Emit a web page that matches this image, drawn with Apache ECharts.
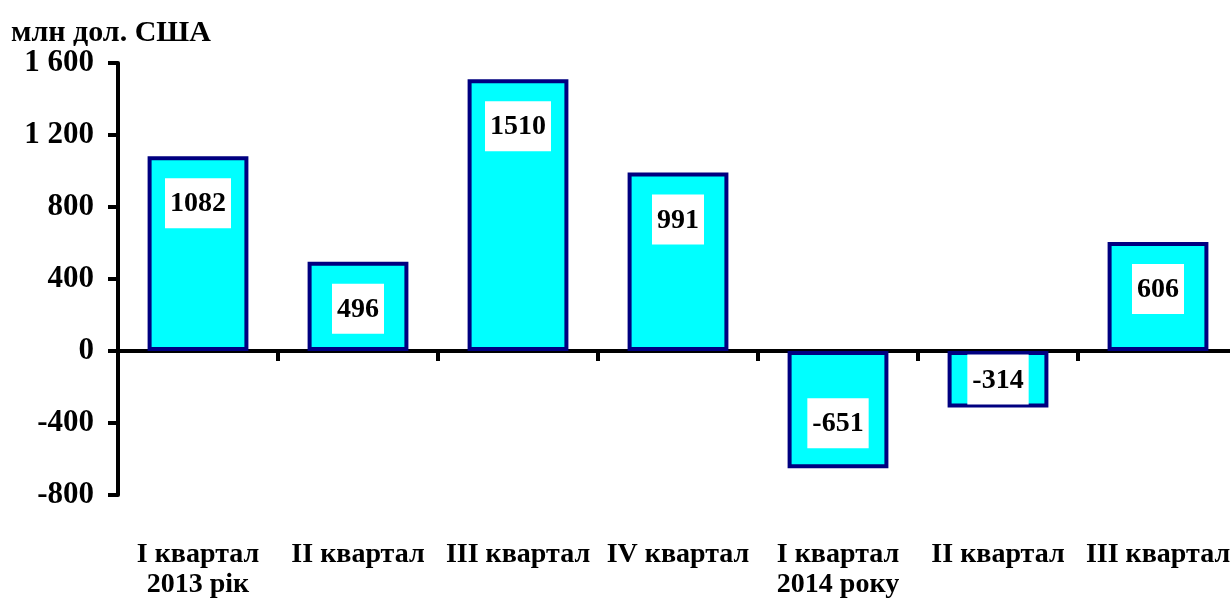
<!DOCTYPE html>
<html>
<head>
<meta charset="utf-8">
<script src="https://cdn.jsdelivr.net/npm/echarts@6/dist/echarts.min.js"></script>
<style>
  html, body { margin: 0; padding: 0; background: #fff; }
  #chart { width: 1230px; height: 603px; }
</style>
</head>
<body>
<div id="chart"></div>
<script>
var categories = ['I квартал\n2013 рік', 'II квартал', 'III квартал', 'IV квартал', 'I квартал\n2014 року', 'II квартал', 'III квартал'];
var values = [1082, 496, 1510, 991, -651, -314, 606];
var yTicks = [-800, -400, 0, 400, 800, 1200, 1600];

var FONT = '"Liberation Serif", "Times New Roman", serif';

function fmt(v) {
  var s = String(Math.abs(v));
  s = s.replace(/\B(?=(\d{3})+(?!\d))/g, ' ');
  return (v < 0 ? '-' : '') + s;
}

var option = {
  backgroundColor: '#fff',
  animation: false,
  title: {
    text: 'млн дол. США',
    left: 6,
    top: 13,
    textStyle: { fontFamily: FONT, fontWeight: 'bold', fontSize: 30, color: '#000' }
  },
  grid: { left: 118, top: 63, width: 1120, bottom: 108, outerBoundsMode: 'none', containLabel: false },
  xAxis: [{
    // axis line through zero with ticks between categories
    type: 'category',
    data: categories,
    axisLine: { onZero: true, lineStyle: { color: '#000', width: 4 } },
    axisTick: { show: true, length: 10, lineStyle: { color: '#000', width: 4 } },
    axisLabel: { show: false },
    splitLine: { show: false }
  }, {
    // category labels under the plot
    type: 'category',
    data: categories,
    position: 'bottom',
    axisLine: { show: false, onZero: false },
    axisTick: { show: false },
    axisLabel: {
      margin: 45,
      interval: 0,
      fontFamily: FONT, fontWeight: 'bold', fontSize: 28, color: '#000',
      lineHeight: 30
    },
    splitLine: { show: false }
  }],
  yAxis: {
    type: 'value',
    min: yTicks[0],
    max: yTicks[yTicks.length - 1],
    interval: 400,
    axisLine: { show: true, lineStyle: { color: '#000', width: 4 } },
    axisTick: { show: true, length: 10, lineStyle: { color: '#000', width: 4 } },
    axisLabel: {
      margin: 24,
      fontFamily: FONT, fontWeight: 'bold', fontSize: 31, color: '#000',
      formatter: fmt
    },
    splitLine: { show: false }
  },
  series: [{
    type: 'bar',
    xAxisIndex: 0,
    barWidth: '63%',
    data: values.map(function (v) {
      return {
        value: v,
        label: v >= 0
          ? { position: 'insideTop', distance: 22 }
          : { position: 'insideBottom', distance: v < -500 ? 20 : 3 }
      };
    }),
    itemStyle: { color: '#00ffff', borderColor: '#000080', borderWidth: 4 },
    label: {
      show: true,
      fontFamily: FONT, fontWeight: 'bold', fontSize: 28, color: '#000',
      backgroundColor: '#fff',
      padding: [12, 5, 10, 5]
    }
  }]
};

var chart = echarts.init(document.getElementById('chart'));
chart.setOption(option);
</script>
</body>
</html>
